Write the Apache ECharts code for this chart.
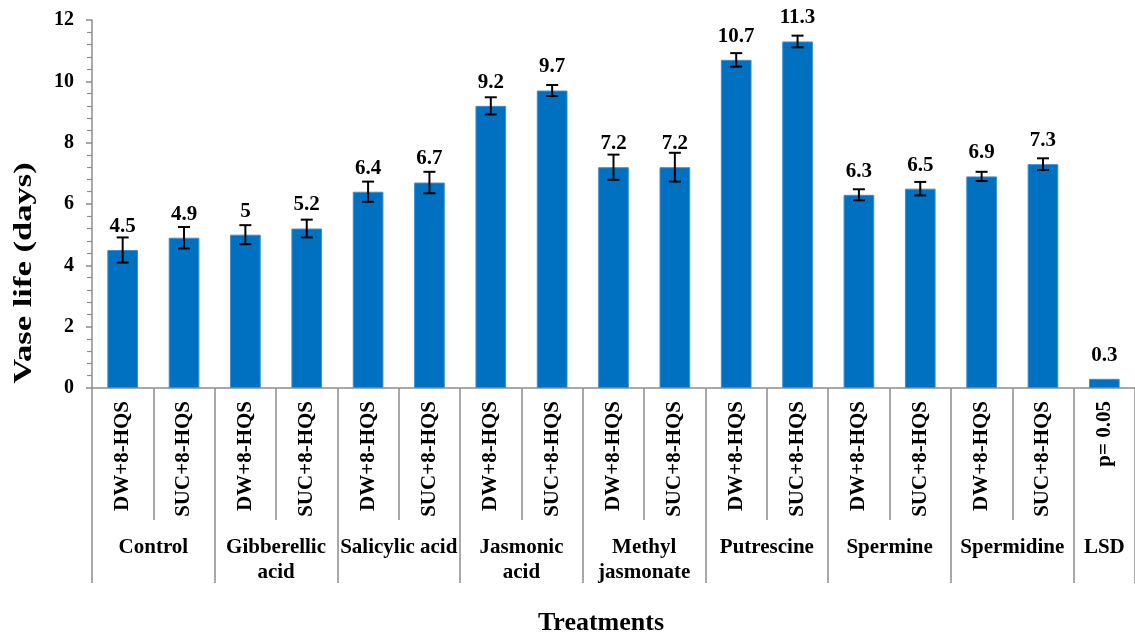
<!DOCTYPE html>
<html>
<head>
<meta charset="utf-8">
<title>Vase life by treatment</title>
<script src="https://cdn.jsdelivr.net/npm/echarts@6/dist/echarts.min.js"></script>
<style>
  html, body { margin: 0; padding: 0; background: #fff; }
  #chart { width: 1135px; height: 638px; }
</style>
</head>
<body>
<div id="chart"></div>
<script>
// Sub-treatment for each bar (holding solution)
var subLabels = [
  'DW+8-HQS', 'SUC+8-HQS', 'DW+8-HQS', 'SUC+8-HQS', 'DW+8-HQS', 'SUC+8-HQS',
  'DW+8-HQS', 'SUC+8-HQS', 'DW+8-HQS', 'SUC+8-HQS', 'DW+8-HQS', 'SUC+8-HQS',
  'DW+8-HQS', 'SUC+8-HQS', 'DW+8-HQS', 'SUC+8-HQS', 'p= 0.05'
];
// Treatment groups and how many bars each spans
var groupNames = [
  'Control', 'Gibberellic\nacid', 'Salicylic acid', 'Jasmonic\nacid', 'Methyl\njasmonate',
  'Putrescine', 'Spermine', 'Spermidine', 'LSD'
];
var groupSizes = [2, 2, 2, 2, 2, 2, 2, 2, 1];
// Mean vase life (days)
var vaseLife = [4.5, 4.9, 5, 5.2, 6.4, 6.7, 9.2, 9.7, 7.2, 7.2, 10.7, 11.3, 6.3, 6.5, 6.9, 7.3, 0.3];
// Standard error of each mean (LSD bar has none)
var stdErr = [0.41, 0.35, 0.31, 0.29, 0.33, 0.35, 0.28, 0.18, 0.41, 0.47, 0.22, 0.19, 0.18, 0.22, 0.15, 0.19, null];
// Value axis ticks
var yTicks = [0, 2, 4, 6, 8, 10, 12];

var serif = '"Liberation Serif", "Times New Roman", serif';
var axisGrey = '#8c8c8c';

// Group boundaries and centres on a 0..n scale of bar slots
var groupEdges = [0];
var groupCenters = [];
groupSizes.forEach(function (s) {
  var start = groupEdges[groupEdges.length - 1];
  groupCenters.push(start + s / 2);
  groupEdges.push(start + s);
});

var errData = [];
vaseLife.forEach(function (v, i) {
  if (stdErr[i] != null) errData.push([i, v - stdErr[i], v + stdErr[i]]);
});

var chart = echarts.init(document.getElementById('chart'), null, { renderer: 'canvas' });

chart.setOption({
  backgroundColor: '#ffffff',
  animation: false,
  grid: { left: 92, top: 20, width: 1050.4, height: 368, containLabel: false },
  xAxis: [
    {
      type: 'category',
      data: subLabels,
      position: 'bottom',
      axisLine: { show: true, lineStyle: { color: axisGrey, width: 1.5 } },
      axisTick: { show: true, length: 132, lineStyle: { color: axisGrey, width: 1.5 } },
      axisLabel: {
        interval: 0,
        rotate: 90,
        margin: 13,
        color: '#000',
        fontFamily: serif,
        fontWeight: 'bold',
        fontSize: 21
      },
      splitLine: { show: false }
    },
    {
      type: 'value',
      position: 'bottom',
      min: 0,
      max: subLabels.length,
      axisLine: { show: false },
      axisTick: {
        show: true,
        customValues: groupEdges,
        length: 195,
        lineStyle: { color: axisGrey, width: 1.5 }
      },
      axisLabel: {
        show: true,
        customValues: groupCenters,
        margin: 147,
        color: '#000',
        fontFamily: serif,
        fontWeight: 'bold',
        fontSize: 21,
        lineHeight: 25,
        align: 'center',
        formatter: function (v) {
          var k = groupCenters.indexOf(v);
          return k >= 0 ? groupNames[k] : '';
        }
      },
      splitLine: { show: false }
    }
  ],
  yAxis: {
    type: 'value',
    min: yTicks[0],
    max: yTicks[yTicks.length - 1],
    interval: 2,
    axisLine: { show: true, lineStyle: { color: axisGrey, width: 1.5 } },
    axisTick: { show: true, length: 6, lineStyle: { color: axisGrey, width: 1.5 } },
    minorTick: { show: true, splitNumber: 5, length: 5, lineStyle: { color: axisGrey, width: 1.2 } },
    axisLabel: {
      margin: 18,
      color: '#000',
      fontFamily: serif,
      fontWeight: 'bold',
      fontSize: 20
    },
    splitLine: { show: false }
  },
  series: [
    {
      type: 'bar',
      xAxisIndex: 0,
      data: vaseLife,
      barWidth: '50%',
      itemStyle: { color: '#0070C0', borderColor: '#3d8fd1', borderWidth: 1 },
      label: {
        show: true,
        position: 'top',
        distance: 13,
        color: '#000',
        fontFamily: serif,
        fontWeight: 'bold',
        fontSize: 21,
        formatter: function (p) { return String(p.value); }
      },
      z: 2
    },
    {
      type: 'custom',
      xAxisIndex: 0,
      data: errData,
      z: 3,
      renderItem: function (params, api) {
        var x = api.value(0);
        var lo = api.coord([x, api.value(1)]);
        var hi = api.coord([x, api.value(2)]);
        var half = 6;
        var style = { stroke: '#000', lineWidth: 2, fill: null };
        return {
          type: 'group',
          children: [
            { type: 'line', shape: { x1: hi[0], y1: hi[1], x2: lo[0], y2: lo[1] }, style: style },
            { type: 'line', shape: { x1: hi[0] - half, y1: hi[1], x2: hi[0] + half, y2: hi[1] }, style: style },
            { type: 'line', shape: { x1: lo[0] - half, y1: lo[1], x2: lo[0] + half, y2: lo[1] }, style: style }
          ]
        };
      }
    }
  ],
  graphic: [
    {
      type: 'text',
      x: 24,
      y: 273,
      rotation: Math.PI / 2,
      scaleX: 1.33,
      style: {
        text: 'Vase life (days)',
        fill: '#000',
        font: 'bold 26px ' + serif,
        align: 'center',
        verticalAlign: 'middle'
      }
    },
    {
      type: 'text',
      x: 601,
      y: 623,
      style: {
        text: 'Treatments',
        fill: '#000',
        font: 'bold 26px ' + serif,
        align: 'center',
        verticalAlign: 'middle'
      }
    }
  ]
});
</script>
</body>
</html>
